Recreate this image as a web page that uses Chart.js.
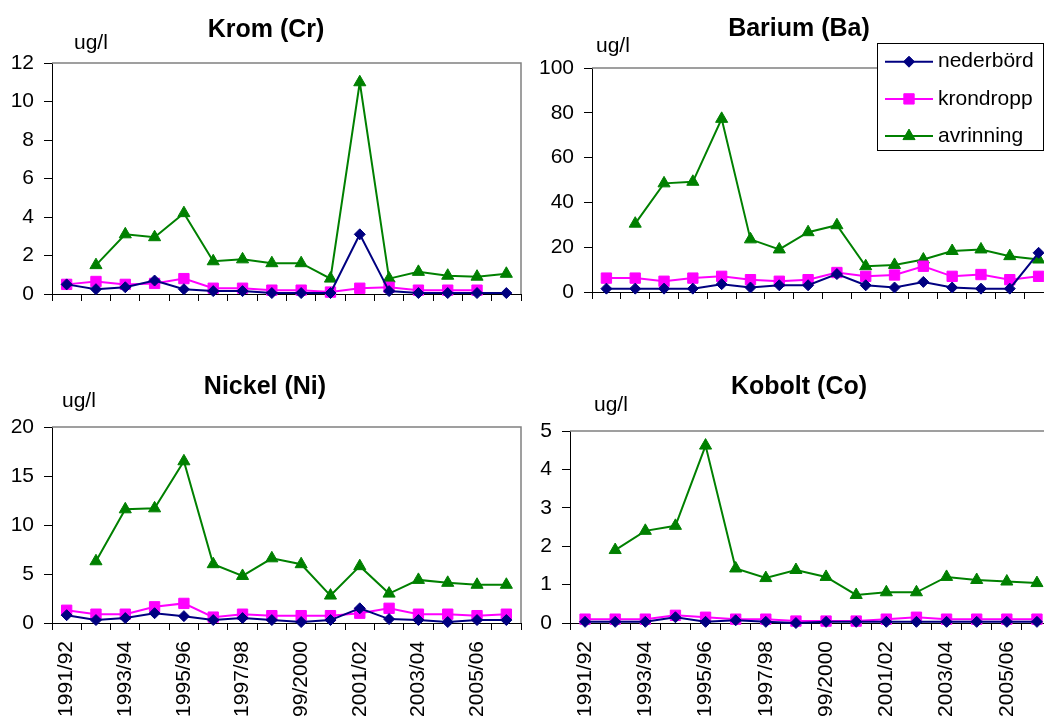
<!DOCTYPE html>
<html>
<head>
<meta charset="utf-8">
<script src="https://cdn.jsdelivr.net/npm/chart.js@4.4.0/dist/chart.umd.min.js"></script>
<style>
  html, body { margin: 0; padding: 0; background: #fff; overflow: hidden; }
  body { width: 1044px; height: 717px; position: relative; }
  canvas { position: absolute; }
</style>
</head>
<body>
<canvas id="krom" width="524" height="358" style="left:0;top:0"></canvas>
<canvas id="barium" width="540" height="358" style="left:524px;top:0"></canvas>
<canvas id="nickel" width="524" height="359" style="left:0;top:358px"></canvas>
<canvas id="kobolt" width="540" height="359" style="left:524px;top:358px"></canvas>
<script>
const years = ['1991/92', '1992/93', '1993/94', '1994/95', '1995/96', '1996/97', '1997/98', '1998/99',
  '1999/2000', '2000/01', '2001/02', '2002/03', '2003/04', '2004/05', '2005/06', '2006/07'];
const seriesNames = ['nederbörd', 'krondropp', 'avrinning'];

// Krom (Cr), ug/l
const kromNederbord = [0.5, 0.25, 0.35, 0.7, 0.25, 0.15, 0.15, 0.05, 0.05, 0.05, 3.1, 0.15, 0.05, 0.05, 0.05, 0.05];
const kromKrondropp = [0.5, 0.65, 0.5, 0.55, 0.8, 0.3, 0.3, 0.2, 0.2, 0.1, 0.3, 0.35, 0.2, 0.2, 0.2, null];
const kromAvrinning = [null, 1.5, 3.1, 2.95, 4.2, 1.7, 1.8, 1.6, 1.6, 0.8, 11, 0.8, 1.15, 0.95, 0.9, 1.05];
const kromTicks = [0, 2, 4, 6, 8, 10, 12];

// Barium (Ba), ug/l
const bariumNederbord = [1.5, 1.5, 1.5, 1.5, 3.5, 2, 3, 3, 8, 3, 2, 4.5, 2, 1.5, 1.5, 17.5];
const bariumKrondropp = [6.2, 6.2, 4.8, 6.2, 7, 5.5, 4.8, 5.5, 8.7, 7, 7.6, 11.5, 7, 7.8, 5.5, 7];
const bariumAvrinning = [null, 30.5, 48.5, 49.2, 77.3, 23.5, 19, 26.7, 29.8, 11.5, 12.1, 14.5, 18.3, 19, 16, 14.5];
const bariumTicks = [0, 20, 40, 60, 80, 100];

// Nickel (Ni), ug/l
const nickelNederbord = [0.8, 0.3, 0.5, 1.0, 0.7, 0.3, 0.5, 0.3, 0.1, 0.3, 1.5, 0.4, 0.3, 0.1, 0.3, 0.3];
const nickelKrondropp = [1.3, 0.9, 0.9, 1.65, 2.0, 0.6, 0.9, 0.75, 0.75, 0.75, 1.0, 1.5, 0.9, 0.9, 0.75, 0.9];
const nickelAvrinning = [null, 6.3, 11.6, 11.7, 16.5, 6.0, 4.8, 6.6, 6.0, 2.8, 5.8, 3.0, 4.4, 4.1, 3.9, 3.9];
const nickelTicks = [0, 5, 10, 15, 20];

// Kobolt (Co), ug/l
const koboltNederbord = [0.03, 0.03, 0.03, 0.15, 0.03, 0.07, 0.03, 0.0, 0.03, 0.03, 0.03, 0.03, 0.03, 0.03, 0.03, 0.03];
const koboltKrondropp = [0.1, 0.1, 0.1, 0.2, 0.15, 0.1, 0.1, 0.05, 0.05, 0.05, 0.1, 0.15, 0.1, 0.1, 0.1, 0.1];
const koboltAvrinning = [null, 1.9, 2.4, 2.53, 4.62, 1.42, 1.17, 1.38, 1.2, 0.73, 0.8, 0.8, 1.2, 1.12, 1.08, 1.04];
const koboltTicks = [0, 1, 2, 3, 4, 5];

const FONT = 'Arial, "Liberation Sans", sans-serif';
const seriesStyle = [
  { color: '#000080', pointStyle: 'rectRot', radius: 5.5 },
  { color: '#FF00FF', pointStyle: 'rect', radius: 7.3 },
  { color: '#008000', pointStyle: 'triangle', radius: 7 }
];

// title + "ug/l" above each plot
const panelText = {
  id: 'panelText',
  afterDraw(chart, args, opts) {
    const ctx = chart.ctx;
    ctx.save();
    ctx.fillStyle = '#000';
    ctx.textBaseline = 'alphabetic';
    ctx.font = 'bold 25px ' + FONT;
    ctx.textAlign = 'center';
    ctx.fillText(opts.title, opts.titleX, opts.titleY);
    ctx.font = '21px ' + FONT;
    ctx.textAlign = 'left';
    ctx.fillText('ug/l', opts.unitX, opts.unitY);
    ctx.restore();
  }
};

// grey frame on the top and right of the plot area
const plotFrame = {
  id: 'plotFrame',
  beforeDatasetsDraw(chart) {
    const { ctx, chartArea: a } = chart;
    ctx.save();
    ctx.strokeStyle = '#808080';
    ctx.lineWidth = 1.5;
    ctx.beginPath();
    ctx.moveTo(a.left, a.top);
    ctx.lineTo(a.right, a.top);
    ctx.lineTo(a.right, a.bottom);
    ctx.stroke();
    ctx.restore();
  }
};

// boxed legend drawn over the barium plot
const seriesLegend = {
  id: 'seriesLegend',
  afterDatasetsDraw(chart, args, opts) {
    const ctx = chart.ctx;
    ctx.save();
    ctx.fillStyle = '#fff';
    ctx.fillRect(opts.left, opts.top, opts.width, opts.height);
    ctx.strokeStyle = '#000';
    ctx.lineWidth = 1;
    ctx.strokeRect(opts.left + 0.5, opts.top + 0.5, opts.width, opts.height);
    chart.data.datasets.forEach((ds, i) => {
      const y = opts.top + opts.firstRow + i * opts.rowGap;
      ctx.strokeStyle = ds.borderColor;
      ctx.fillStyle = ds.backgroundColor;
      ctx.lineWidth = 2;
      ctx.beginPath();
      ctx.moveTo(opts.left + 8, y);
      ctx.lineTo(opts.left + 56, y);
      ctx.stroke();
      ctx.lineWidth = 1;
      Chart.helpers.drawPoint(ctx, { pointStyle: ds.pointStyle, radius: ds.pointRadius, rotation: 0, borderWidth: 1 }, opts.left + 32, y);
      ctx.fillStyle = '#000';
      ctx.font = '21px ' + FONT;
      ctx.textAlign = 'left';
      ctx.textBaseline = 'middle';
      ctx.fillText(ds.label, opts.left + 61, y);
    });
    ctx.restore();
  }
};

function makeChart(id, series, ticks, box, text, legend) {
  const datasets = series.map((values, i) => ({
    label: seriesNames[i],
    data: values,
    borderColor: seriesStyle[i].color,
    backgroundColor: seriesStyle[i].color,
    borderWidth: 2,
    pointStyle: seriesStyle[i].pointStyle,
    pointRadius: seriesStyle[i].radius,
    pointHoverRadius: seriesStyle[i].radius,
    pointBorderWidth: 1,
    tension: 0,
    spanGaps: false,
    clip: false
  }));

  const plugins = [plotFrame, panelText];
  if (legend) plugins.push(seriesLegend);

  return new Chart(document.getElementById(id), {
    type: 'line',
    data: { labels: years, datasets: datasets },
    plugins: plugins,
    options: {
      responsive: false,
      animation: false,
      events: [],
      layout: { autoPadding: false, padding: { top: box.top, right: box.right, bottom: 0, left: 0 } },
      plugins: {
        legend: { display: false },
        title: { display: false },
        tooltip: { enabled: false },
        panelText: text,
        seriesLegend: legend || {}
      },
      scales: {
        x: {
          type: 'category',
          offset: true,
          grid: { offset: true, drawOnChartArea: false, tickLength: 7, color: '#000', lineWidth: 1 },
          border: { color: '#000', width: 1 },
          ticks: {
            display: box.showX,
            autoSkip: false,
            minRotation: 90,
            maxRotation: 90,
            padding: 11,
            color: '#000',
            font: { family: FONT, size: 21 },
            callback: (v, i) => (i % 2 === 0 ? years[i] : '')
          },
          afterFit: (s) => { s.height = box.xHeight; s.paddingLeft = 0; s.paddingRight = 0; }
        },
        y: {
          min: ticks[0],
          max: ticks[ticks.length - 1],
          grid: { drawOnChartArea: false, tickLength: 8, color: '#000', lineWidth: 1 },
          border: { color: '#000', width: 1 },
          ticks: {
            stepSize: ticks[1] - ticks[0],
            padding: 10,
            color: '#000',
            font: { family: FONT, size: 21 }
          },
          afterFit: (s) => { s.width = box.yWidth; }
        }
      }
    }
  });
}

makeChart('krom', [kromNederbord, kromKrondropp, kromAvrinning], kromTicks,
  { top: 63, right: 3, yWidth: 52, xHeight: 64, showX: false },
  { title: 'Krom (Cr)', titleX: 266, titleY: 37, unitX: 74, unitY: 49 });

makeChart('barium', [bariumNederbord, bariumKrondropp, bariumAvrinning], bariumTicks,
  { top: 68, right: 11, yWidth: 68, xHeight: 66, showX: false },
  { title: 'Barium (Ba)', titleX: 275, titleY: 36, unitX: 72, unitY: 52 },
  { left: 353, top: 43, width: 166, height: 107, firstRow: 18.7, rowGap: 37.2 });

makeChart('nickel', [nickelNederbord, nickelKrondropp, nickelAvrinning], nickelTicks,
  { top: 69, right: 3, yWidth: 52, xHeight: 94, showX: true },
  { title: 'Nickel (Ni)', titleX: 265, titleY: 36, unitX: 62, unitY: 49 },
  null);

makeChart('kobolt', [koboltNederbord, koboltKrondropp, koboltAvrinning], koboltTicks,
  { top: 73, right: 12, yWidth: 46, xHeight: 94, showX: true },
  { title: 'Kobolt (Co)', titleX: 275, titleY: 36, unitX: 70, unitY: 53 },
  null);
</script>
</body>
</html>
